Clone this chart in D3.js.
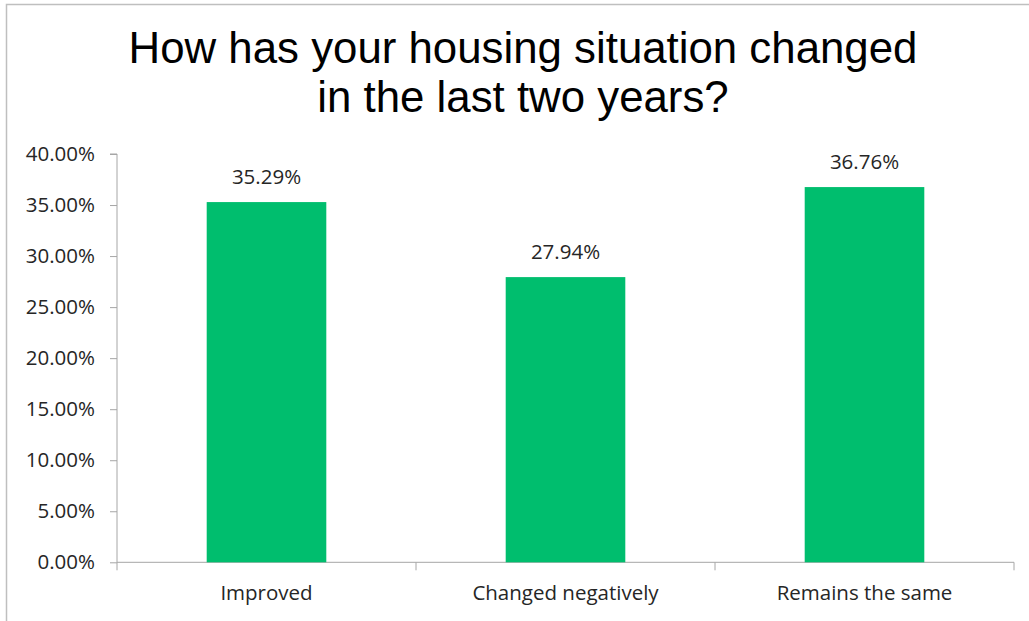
<!DOCTYPE html>
<html><head><meta charset="utf-8">
<script src="https://cdn.jsdelivr.net/npm/d3@7"></script>
<style>body{margin:0;background:#fff;}svg{display:block;}</style>
</head><body>
<svg id="c" width="1029" height="621"></svg>
<script>
const categories = ["Improved", "Changed negatively", "Remains the same"];
const values = [0.3529, 0.2794, 0.3676];
const yTicks = [0, 0.05, 0.10, 0.15, 0.20, 0.25, 0.30, 0.35, 0.40];
const titleLines = ["How has your housing situation changed", "in the last two years?"];

(function () {
const svg = d3.select("#c");
const pLeft = 117, pRight = 1014, pTop = 154, pBottom = 562.3;
const lblFont = "Open Sans, sans-serif";
const fs = 20.5;

svg.append("rect").attr("x", 6.5).attr("y", 4.5).attr("width", 1200).attr("height", 1000)
  .attr("fill", "#fff").attr("stroke", "#BFBFBF").attr("stroke-width", 1.5);

const x = d3.scaleBand().domain(categories).range([pLeft, pRight]).paddingInner(0.6).paddingOuter(0.3);
const y = d3.scaleLinear().domain([0, 0.40]).range([pBottom, pTop]);

svg.append("g").selectAll("text").data(titleLines).join("text")
  .attr("x", 523).attr("y", (d, i) => 63 + i * 49)
  .attr("text-anchor", "middle")
  .attr("font-family", "Liberation Sans, Arial, sans-serif")
  .attr("font-size", 43.8).attr("fill", "#000").text(d => d);

// Y axis
const yAxis = svg.append("g").attr("transform", `translate(${pLeft},0)`)
  .call(d3.axisLeft(y).tickValues(yTicks).tickSize(7).tickPadding(15).tickFormat(d3.format(".2%")));
yAxis.select(".domain").attr("stroke", "#A6A6A6").attr("d", `M-7,${pTop}H0V${pBottom}`);
yAxis.selectAll(".tick line").attr("stroke", "#A6A6A6");
yAxis.selectAll(".tick text").attr("font-family", lblFont).attr("font-size", fs).attr("fill", "#262626");

// X axis
const xAxis = svg.append("g").attr("transform", `translate(0,${pBottom})`)
  .call(d3.axisBottom(x).tickSize(0).tickPadding(23));
xAxis.select(".domain").remove();
xAxis.selectAll(".tick text").attr("font-family", lblFont).attr("font-size", fs).attr("fill", "#262626");
const bounds = d3.range(categories.length + 1).map(i => pLeft + i * (pRight - pLeft) / categories.length);
svg.append("g").selectAll("line").data(bounds).join("line")
  .attr("x1", d => d).attr("x2", d => d).attr("y1", pBottom).attr("y2", pBottom + 8)
  .attr("stroke", "#A6A6A6");
svg.append("line").attr("x1", pLeft).attr("x2", pRight).attr("y1", pBottom).attr("y2", pBottom)
  .attr("stroke", "#A6A6A6");

// Bars
svg.append("g").selectAll("rect").data(values).join("rect")
  .attr("x", (d, i) => x(categories[i]))
  .attr("width", x.bandwidth())
  .attr("y", d => y(d))
  .attr("height", d => pBottom - y(d))
  .attr("fill", "#00BE6E");

svg.append("g").selectAll("text").data(values).join("text")
  .attr("x", (d, i) => x(categories[i]) + x.bandwidth() / 2)
  .attr("y", d => y(d) - 18)
  .attr("text-anchor", "middle")
  .attr("font-family", lblFont).attr("font-size", fs).attr("fill", "#262626")
  .text(d => d3.format(".2%")(d));
})();
</script>
</body></html>
